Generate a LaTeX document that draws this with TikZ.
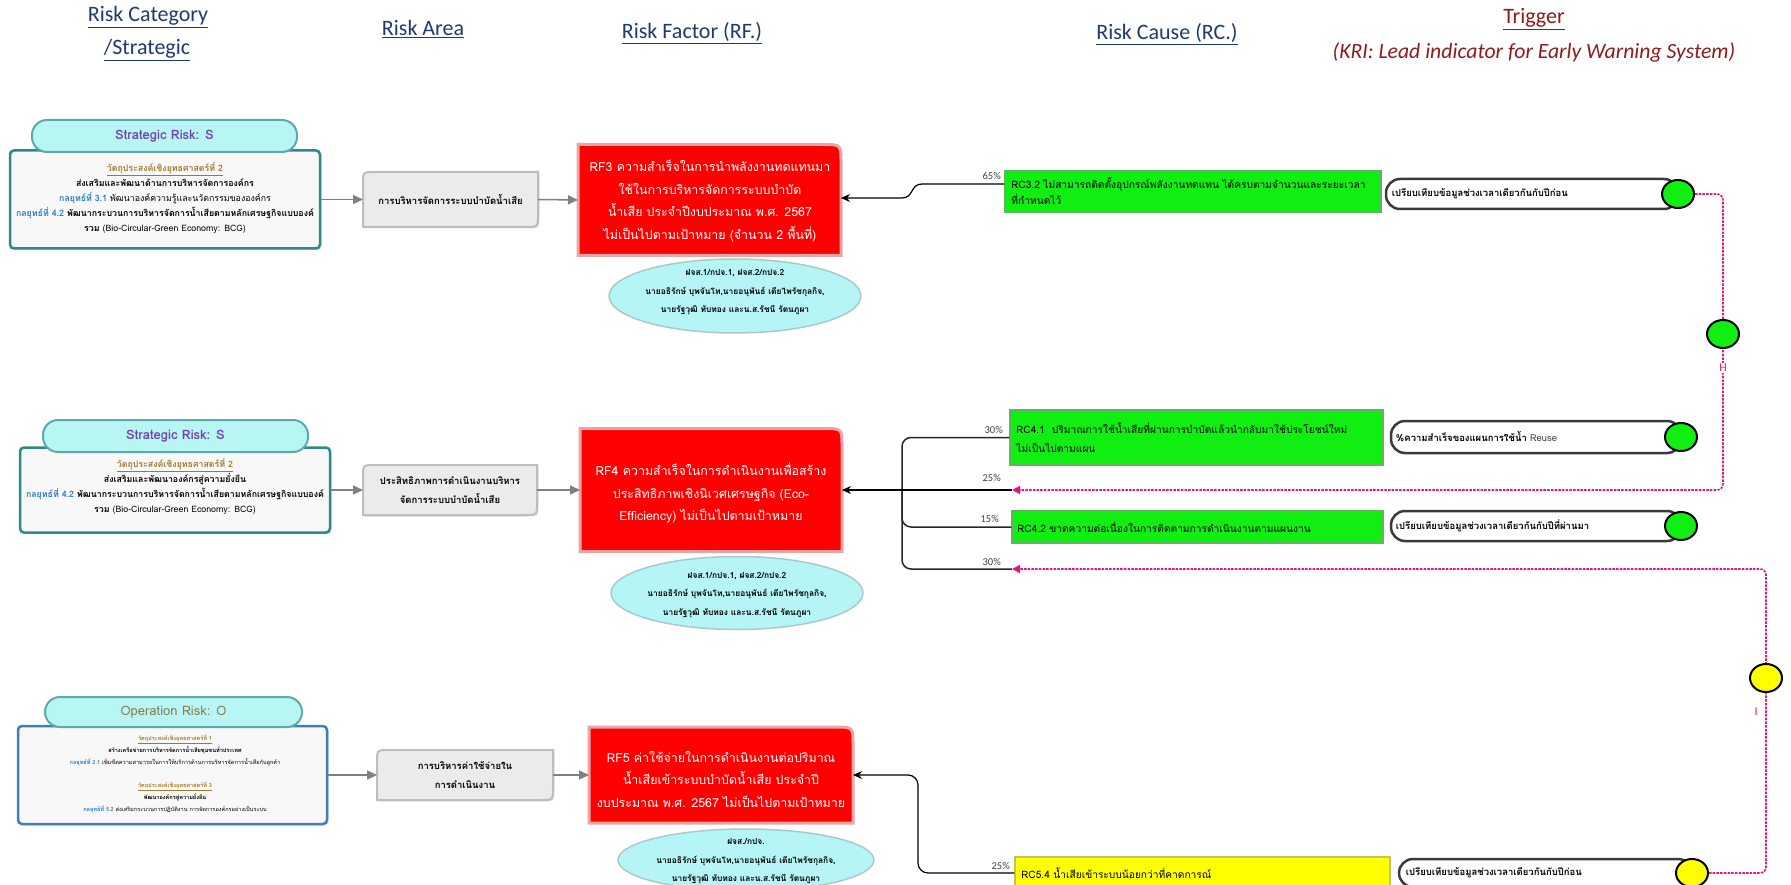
\documentclass[tikz,border=0pt]{standalone}
\usepackage{fontspec}
\setmainfont{Carlito}
\newfontfamily\thai[Script=Thai]{Loma}
\usetikzlibrary{arrows.meta,calc,shadows,shapes.geometric}
\definecolor{hdrblue}{HTML}{1F3A6E}
\definecolor{trigred}{HTML}{8E1B1B}
\definecolor{pillfill}{HTML}{B8F6F4}
\definecolor{pillline}{HTML}{5FA9A8}
\definecolor{tealline}{HTML}{2C8A8A}
\definecolor{blueline}{HTML}{3C7FC0}
\definecolor{boxfill}{HTML}{F8F8F8}
\definecolor{purp}{HTML}{7144B0}
\definecolor{khaki}{HTML}{8A7A50}
\definecolor{objbrown}{HTML}{A07A28}
\definecolor{stratblue}{HTML}{2E7BC4}
\definecolor{areafill}{HTML}{EBEBEB}
\definecolor{arealine}{HTML}{BDBDBD}
\definecolor{rfred}{HTML}{FF0000}
\definecolor{rfline}{HTML}{E8A5A5}
\definecolor{ellfill}{HTML}{B5F5F5}
\definecolor{ellline}{HTML}{A9CACA}
\definecolor{rcgreen}{HTML}{11EE11}
\definecolor{rcgline}{HTML}{5CB85C}
\definecolor{rcyellow}{HTML}{FFFF00}
\definecolor{rcyline}{HTML}{C8C060}
\definecolor{kripink}{HTML}{E3157E}
\definecolor{graytxt}{HTML}{404040}
\definecolor{trigline}{HTML}{3A3A3A}
\definecolor{arrowgray}{HTML}{808080}
\newcommand\areashape[1]{\draw[areadraw] ([yshift=-11pt]#1.north west) .. controls (#1.north west) .. ([xshift=11pt]#1.north west) -- (#1.north east) -- ([yshift=11pt]#1.south east) .. controls (#1.south east) .. ([xshift=-11pt]#1.south east) -- (#1.south west) -- cycle;}
\newcommand\rfshape[1]{\draw[rfdraw] (#1.north west) -- ([xshift=-18pt]#1.north east) .. controls (#1.north east) .. ([yshift=-18pt]#1.north east) -- (#1.south east) -- (#1.south west) -- cycle;}
\begin{document}
\begin{tikzpicture}[x=1pt,y=-1pt,
 hdr/.style={font=\fontsize{22}{26}\selectfont, text=hdrblue, inner sep=0pt},
 catbox/.style={draw=tealline, line width=2.5pt, fill=boxfill, rounded corners=4pt, inner sep=0pt, drop shadow={shadow xshift=1.5pt, shadow yshift=-1.5pt, opacity=0.25}},
 catpill/.style={draw=pillline, line width=2pt, fill=pillfill, rounded corners=15pt, inner sep=0pt, font=\thai\fontsize{13}{15}\selectfont\bfseries},
 cattext/.style={align=center, font=\thai\fontsize{8.8}{15}\selectfont, inner sep=0pt},
 geo/.style={inner sep=0pt, outer sep=0pt},
 areadraw/.style={draw=arealine, line width=2pt, fill=areafill, drop shadow={shadow xshift=1.5pt, shadow yshift=-1.5pt, opacity=0.25}},
 areatext/.style={align=center, font=\thai\fontsize{9.5}{19}\selectfont\bfseries, inner sep=0pt},
 rfdraw/.style={draw=rfline, line width=3pt, fill=rfred},
 rftext/.style={align=center, text=white, font=\thai\fontsize{12.4}{22.5}\selectfont, inner sep=0pt},
 owner/.style={ellipse, draw=ellline, line width=1.5pt, fill=ellfill, inner sep=0pt},
 ownertext/.style={align=center, font=\thai\fontsize{8.4}{18.5}\selectfont\bfseries, inner sep=0pt},
 rcbox/.style={draw=rcgline, line width=1.5pt, fill=rcgreen, inner sep=0pt},
 rctext/.style={align=left, font=\thai\fontsize{10.2}{16}\selectfont, inner sep=0pt, anchor=west},
 trig/.style={draw=trigline, line width=2.5pt, fill=white, rounded corners=14pt, inner sep=0pt},
 trigtext/.style={font=\thai\fontsize{9.5}{12}\selectfont\bfseries, inner sep=0pt, anchor=west},
 lamp/.style={ellipse, draw=black, line width=2pt, fill=rcgreen, minimum width=32pt, minimum height=28pt, inner sep=0pt},
 pct/.style={font=\fontsize{10.5}{12}\selectfont, text=graytxt, inner sep=0pt, anchor=base east},
 grayarrow/.style={draw=arrowgray, line width=1.5pt, -{Triangle[length=10pt,width=9pt]}},
 blackarrow/.style={draw=black, line width=1.2pt, -{Stealth[length=9pt,width=8pt]}},
 treeline/.style={draw=black!85, line width=1.5pt},
 kri/.style={draw=kripink, line width=1.6pt, dash pattern=on 2.5pt off 1.2pt, -{Triangle[length=8pt,width=8pt]}},
]
\useasboundingbox (0,0) rectangle (1791,885);

% ---------- headers ----------
\node[hdr] (hcat1) at (148,17) {\underline{Risk Category}};
\node[hdr] (hcat2) at (147,50) {\underline{/Strategic}};
\node[hdr] (harea) at (423,29) {\underline{Risk Area}};
\node[hdr] (hrf) at (692,33) {\underline{Risk Factor (RF.)}};
\node[hdr] (hrc) at (1167,34) {\underline{Risk Cause (RC.)}};
\node[hdr, text=trigred] (htrig) at (1534,19) {\underline{Trigger}};
\node[hdr, text=trigred, font=\fontsize{21.7}{24}\selectfont\itshape] (hkri) at (1534,52) {(KRI: Lead indicator for Early Warning System)};

% ---------- category boxes ----------
\node[catbox, minimum width=310pt, minimum height=98pt] (cat1) at (165,199.5) {};
\node[catpill, minimum width=265pt, minimum height=32pt, text=purp] (pill1) at (164.5,136) {Strategic Risk: S};
\node[cattext] (cat1t) at (165,197.5) {{\bfseries\color{objbrown}\underline{วัตถุประสงค์เชิงยุทธศาสตร์ที่ 2}}\\
{\bfseries ส่งเสริมและพัฒนาด้านการบริหารจัดการองค์กร}\\
{\bfseries\color{stratblue}กลยุทธ์ที่ 3.1} พัฒนาองค์ความรู้และนวัตกรรมขององค์กร\\
{\bfseries\color{stratblue}กลยุทธ์ที่ 4.2} {\bfseries พัฒนากระบวนการบริหารจัดการน้ำเสียตามหลักเศรษฐกิจแบบองค์}\\
{\bfseries รวม} (Bio-Circular-Green Economy: BCG)};

\node[catbox, minimum width=310pt, minimum height=85pt] (cat2) at (175,490) {};
\node[catpill, minimum width=265pt, minimum height=32pt, text=purp] (pill2) at (175.5,436) {Strategic Risk: S};
\node[cattext] (cat2t) at (175,486) {{\bfseries\color{objbrown}\underline{วัตถุประสงค์เชิงยุทธศาสตร์ที่ 2}}\\
{\bfseries ส่งเสริมและพัฒนาองค์กรสู่ความยั่งยืน}\\
{\bfseries\color{stratblue}กลยุทธ์ที่ 4.2} {\bfseries พัฒนากระบวนการบริหารจัดการน้ำเสียตามหลักเศรษฐกิจแบบองค์}\\
{\bfseries รวม} (Bio-Circular-Green Economy: BCG)};

\node[catbox, draw=blueline, minimum width=309pt, minimum height=98pt] (cat3) at (172.5,775) {};
\node[catpill, minimum width=257pt, minimum height=30pt, text=khaki] (pill3) at (173.5,712) {\mdseries Operation Risk: O};
\node[cattext, font=\thai\fontsize{5.6}{12}\selectfont] (cat3t) at (175,774) {{\bfseries\color{objbrown}\underline{วัตถุประสงค์เชิงยุทธศาสตร์ที่ 1}}\\
{\bfseries สร้างเครือข่ายการบริหารจัดการน้ำเสียชุมชนทั่วประเทศ}\\
{\bfseries\color{stratblue}กลยุทธ์ที่ 2.1} เพิ่มขีดความสามารถในการให้บริการด้านการบริหารจัดการน้ำเสียกับลูกค้า\\[11pt]
{\bfseries\color{objbrown}\underline{วัตถุประสงค์เชิงยุทธศาสตร์ที่ 3}}\\
{\bfseries พัฒนาองค์กรสู่ความยั่งยืน}\\
{\bfseries\color{stratblue}กลยุทธ์ที่ 5.2} ส่งเสริมกระบวนการปฏิบัติงาน การจัดการองค์กรอย่างเป็นระบบ};

% ---------- risk area boxes ----------
\node[geo, minimum width=175pt, minimum height=55pt] (A1) at (450.5,199.5) {};
\areashape{A1}
\node[areatext] (A1t) at (A1) {การบริหารจัดการระบบบำบัดน้ำเสีย};
\node[geo, minimum width=174pt, minimum height=50pt] (A2) at (450,490) {};
\areashape{A2}
\node[areatext] (A2t) at (A2) {ประสิทธิภาพการดำเนินงานบริหาร\\จัดการระบบบำบัดน้ำเสีย};
\node[geo, minimum width=176pt, minimum height=50pt] (A3) at (465,775) {};
\areashape{A3}
\node[areatext] (A3t) at (A3) {การบริหารค่าใช้จ่ายใน\\การดำเนินงาน};

% ---------- risk factor boxes ----------
\node[geo, minimum width=263pt, minimum height=111pt] (RF3) at (709.5,200) {};
\rfshape{RF3}
\node[rftext] (RF3t) at (710,201) {RF3 ความสำเร็จในการนำพลังงานทดแทนมา\\ใช้ในการบริหารจัดการระบบบำบัด\\น้ำเสีย ประจำปีงบประมาณ พ.ศ. 2567\\ไม่เป็นไปตามเป้าหมาย (จำนวน 2 พื้นที่)};
\node[geo, minimum width=262pt, minimum height=123pt] (RF4) at (711,490) {};
\rfshape{RF4}
\node[rftext] (RF4t) at (711,493) {RF4 ความสำเร็จในการดำเนินงานเพื่อสร้าง\\ประสิทธิภาพเชิงนิเวศเศรษฐกิจ (Eco-\\Efficiency) ไม่เป็นไปตามเป้าหมาย};
\node[geo, minimum width=264pt, minimum height=96pt] (RF5) at (721,775) {};
\rfshape{RF5}
\node[rftext] (RF5t) at (721,779) {RF5 ค่าใช้จ่ายในการดำเนินงานต่อปริมาณ\\น้ำเสียเข้าระบบบำบัดน้ำเสีย ประจำปี\\งบประมาณ พ.ศ. 2567 ไม่เป็นไปตามเป้าหมาย};

% ---------- owner ellipses ----------
\node[owner, minimum width=252pt, minimum height=74pt] (E1) at (735,296) {};
\node[ownertext] (E1t) at (735,292.5) {ฝจส.1/กปจ.1, ฝจส.2/กปจ.2\\นายอธิรักษ์ บุพจันโท,นายอนุพันธ์ เตียไพรัชกุลกิจ,\\นายรัฐวุฒิ ทับทอง และน.ส.รัชนี รัตนภูผา};
\node[owner, minimum width=252pt, minimum height=73pt] (E2) at (737,593) {};
\node[ownertext] (E2t) at (737,595) {ฝจส.1/กปจ.1, ฝจส.2/กปจ.2\\นายอธิรักษ์ บุพจันโท,นายอนุพันธ์ เตียไพรัชกุลกิจ,\\นายรัฐวุฒิ ทับทอง และน.ส.รัชนี รัตนภูผา};
\node[owner, minimum width=256pt, minimum height=62pt] (E3) at (746,860) {};
\node[ownertext] (E3t) at (746,861.5) {ฝจส./กปจ.\\นายอธิรักษ์ บุพจันโท,นายอนุพันธ์ เตียไพรัชกุลกิจ,\\นายรัฐวุฒิ ทับทอง และน.ส.รัชนี รัตนภูผา};

% ---------- gray arrows ----------
\draw[grayarrow] (cat1.east) -- (A1.west);
\draw[grayarrow] (A1.east) -- (RF3.west);
\draw[grayarrow] (cat2.east) -- (A2.west);
\draw[grayarrow] (A2.east) -- (RF4.west);
\draw[grayarrow] (cat3.east) -- (A3.west);
\draw[grayarrow] (A3.east) -- (RF5.west);

% ---------- risk cause boxes ----------
\node[rcbox, minimum width=376pt, minimum height=41pt] (RC32) at (1193,191.5) {};
\node[rctext, font=\thai\fontsize{10.2}{16}\selectfont] (RC32t) at ([xshift=7pt]RC32.west) {RC3.2 ไม่สามารถติดตั้งอุปกรณ์พลังงานทดแทน ได้ครบตามจำนวนและระยะเวลา\\ที่กำหนดไว้};
\node[rcbox, minimum width=373pt, minimum height=55pt] (RC41) at (1196.5,437.5) {};
\node[rctext, font=\thai\fontsize{10.2}{19}\selectfont] (RC41t) at ([xshift=7pt]RC41.west) {RC4.1\ \ ปริมาณการใช้น้ำเสียที่ผ่านการบำบัดแล้วนำกลับมาใช้ประโยชน์ใหม่\\ไม่เป็นไปตามแผน};
\node[rcbox, minimum width=371pt, minimum height=32pt] (RC42) at (1197.5,527) {};
\node[rctext] (RC42t) at ([xshift=6pt]RC42.west) {RC4.2 ขาดความต่อเนื่องในการติดตามการดำเนินงานตามแผนงาน};
\node[rcbox, fill=rcyellow, draw=rcyline, minimum width=375pt, minimum height=32pt] (RC54) at (1202.5,873) {};
\node[rctext] (RC54t) at ([xshift=7pt]RC54.west) {RC5.4 น้ำเสียเข้าระบบน้อยกว่าที่คาดการณ์};

% ---------- triggers ----------
\node[trig, minimum width=292pt, minimum height=30pt] (T1) at (1532,194) {};
\node[trigtext] (T1t) at ([xshift=7pt]T1.west) {เปรียบเทียบข้อมูลช่วงเวลาเดียวกันกับปีก่อน};
\node[lamp] (C1) at (1678,194) {};
\node[trig, minimum width=290pt, minimum height=32pt] (T2) at (1536,437) {};
\node[trigtext] (T2t) at ([xshift=6pt]T2.west) {\%ความสำเร็จของแผนการใช้น้ำ {\mdseries\color{graytxt}Reuse}};
\node[lamp] (C2) at (1681,437) {};
\node[trig, minimum width=290pt, minimum height=30pt] (T3) at (1536,526) {};
\node[trigtext] (T3t) at ([xshift=6pt]T3.west) {เปรียบเทียบข้อมูลช่วงเวลาเดียวกันกับปีที่ผ่านมา};
\node[lamp] (C3) at (1681,526) {};
\node[trig, minimum width=293pt, minimum height=28pt] (T4) at (1545.5,873) {};
\node[trigtext] (T4t) at ([xshift=8pt]T4.west) {เปรียบเทียบข้อมูลช่วงเวลาเดียวกันกับปีก่อน};
\node[lamp, fill=rcyellow] (C4) at (1692,873) {};

% ---------- connectors RC -> RF ----------
\coordinate (e25) at (1012,490);
\coordinate (e30) at (1012,569);
\coordinate (jn) at (902,490);
\draw[blackarrow] ([yshift=7.5pt]RC32.west) -- (922,184) .. controls (910,184) and (914,198) .. (902,198) -- ([yshift=2pt]RF3.east);
\draw[treeline, rounded corners=9pt] (RC41.west) -| (jn);
\draw[treeline, rounded corners=9pt] (RC42.west) -| (jn);
\draw[treeline, rounded corners=9pt] (e30) -| (jn);
\draw[blackarrow] (e25) -- (RF4.east);
\draw[blackarrow, rounded corners=10pt] (RC54.west) -- (918,873) -- (918,775) -- (RF5.east);

\node[pct] (p65) at (1001,180) {65\%};
\node[pct] (p30a) at (1003,433) {30\%};
\node[pct] (p25) at (1001,481) {25\%};
\node[pct] (p15) at (999,522) {15\%};
\node[pct] (p30b) at (1001,565) {30\%};
\node[pct] (p25b) at (1010,869) {25\%};

% ---------- KRI dashed links ----------
\coordinate (hx) at (1723,490);
\coordinate (ix) at (1766,569);
\draw[kri, rounded corners=6pt] (C1.east) -| (hx) -- (e25);
\draw[kri, rounded corners=6pt] (C4.east) -| (ix) -- (e30);
\node[lamp] (H) at (1723,334) {};
\node[fill=white, inner sep=1pt, text=kripink, font=\fontsize{12}{14}\selectfont] (Hl) at (1723,368) {H};
\node[lamp, fill=rcyellow] (I) at (1766,678) {};
\node[inner sep=1pt, text=kripink, font=\fontsize{12}{14}\selectfont] (Il) at (1756,712) {I};
\end{tikzpicture}
\end{document}
